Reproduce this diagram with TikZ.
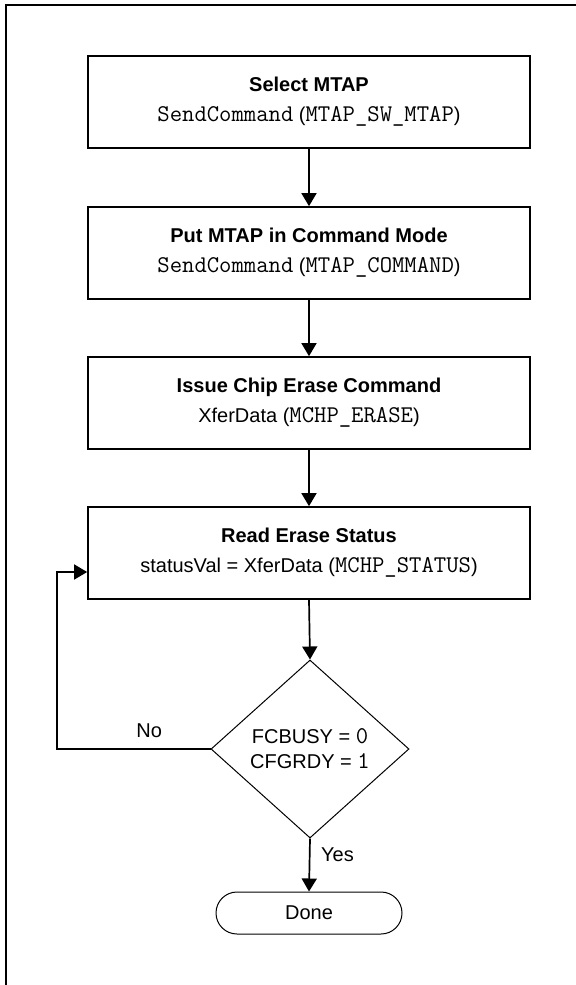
\documentclass[tikz,border=0pt]{standalone}
\usepackage{fontspec}
\setmainfont{Liberation Sans}
\usetikzlibrary{arrows.meta,shapes.geometric}
\newcommand{\codetxt}[1]{{\fontsize{12}{12}\ttfamily #1}}
\tikzstyle{procbox} = [rectangle, draw, line width=0.85pt, minimum width=221pt, minimum height=46pt, inner sep=0pt, align=center, font=\fontsize{10}{12}\selectfont]
\tikzstyle{decide} = [diamond, draw, line width=0.5pt, minimum width=99pt, minimum height=89pt, inner sep=0pt, align=center, font=\fontsize{10}{12.5}\selectfont]
\tikzstyle{term} = [rectangle, rounded corners=10.5pt, draw, line width=0.5pt, minimum width=93pt, minimum height=21pt, inner sep=0pt, font=\fontsize{10}{12}\selectfont]
\tikzstyle{flow} = [line width=0.85pt, -{Triangle[width=7.5pt,length=6.5pt]}]

\begin{document}
\begin{tikzpicture}[x=0.5pt, y=-0.5pt]
                \useasboundingbox (0,0) rectangle (576,985);
                \draw [line width=1pt] (6,985) -- (6,5) -- (576,5);
                \node [procbox] (sel) at (309,102) {\textbf{Select MTAP}\\[3pt]\codetxt{SendCommand} (\codetxt{MTAP\_SW\_MTAP})};
                \node [procbox] (cmd) at (309,253) {\textbf{Put MTAP in Command Mode}\\[3pt]\codetxt{SendCommand} (\codetxt{MTAP\_COMMAND})};
                \node [procbox] (ers) at (309,403) {\textbf{Issue Chip Erase Command}\\[3pt]XferData (\codetxt{MCHP\_ERASE})};
                \node [procbox] (rd) at (309,553) {\textbf{Read Erase Status}\\[3pt]statusVal = XferData (\codetxt{MCHP\_STATUS})};
                \node [decide] (chk) at (310,749) {FCBUSY = \codetxt{0}\\CFGRDY = \codetxt{1}};
                \node [term] (done) at (309,913) {Done};
                \draw [flow] (sel) -- (cmd);
                \draw [flow] (cmd) -- (ers);
                \draw [flow] (ers) -- (rd);
                \draw [flow] (rd.south) -- (chk.north);
                \draw [flow] (chk.west) -| ([xshift=-15pt, yshift=-9.5pt]rd.west) node [above=2pt, pos=0.2] {No} -- ([yshift=-9.5pt]rd.west);
                \draw [flow] (chk.south) -- (done.north) node [right=2pt, pos=0.3] {Yes};
            \end{tikzpicture}
\end{document}
